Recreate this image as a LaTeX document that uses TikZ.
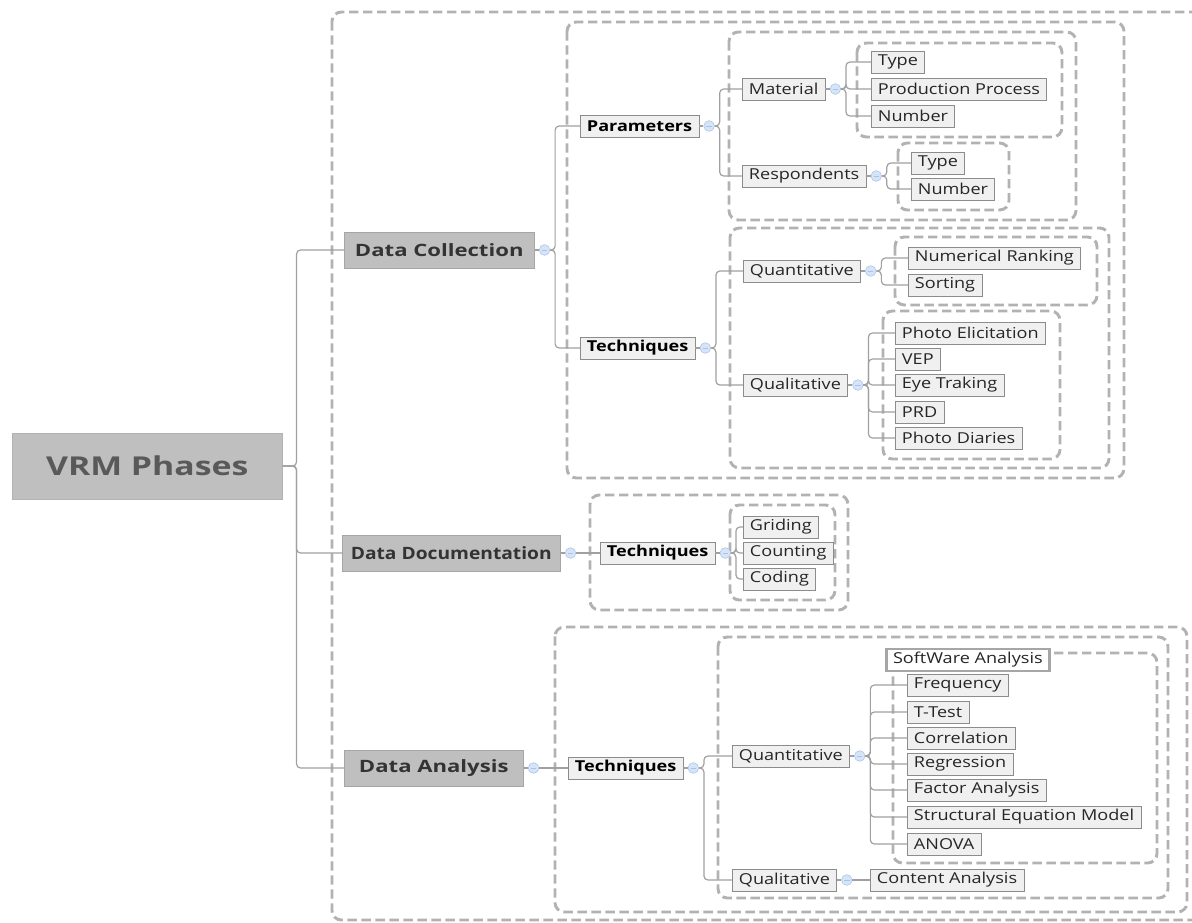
\documentclass[tikz,border=0pt]{standalone}
\usepackage{fontspec}
\setmainfont{Open Sans}[FakeStretch=1.3]
\newfontfamily\leaffont{Open Sans}[FakeStretch=1.2]
\newfontfamily\ddfont{Open Sans}[FakeStretch=1.13]
\definecolor{frm}{HTML}{B2B2B2}
\definecolor{lnk}{HTML}{A0A0A0}
\definecolor{togf}{HTML}{D6E4F8}
\definecolor{togd}{HTML}{A8C2E8}

\begin{document}
\begin{tikzpicture}[x=0.75pt,y=-0.75pt,
    grpbox/.style={draw=frm,line width=2.2pt,dash pattern=on 7pt off 3.5pt,rounded corners=7pt},
    link/.style={draw=lnk,line width=0.9pt,rounded corners=3pt},
    leaf/.style={draw=black!45,fill=black!6,anchor=west,inner xsep=5pt,inner ysep=0pt,
        minimum height=16.5pt,font=\leaffont\fontsize{11.3}{13}\selectfont,text=black!85},
    subhead/.style={leaf,font=\leaffont\bfseries\fontsize{11.3}{13}\selectfont,text=black},
    phase/.style={draw=black!35,fill=black!25,anchor=west,inner xsep=6pt,inner ysep=0pt,
        minimum height=27pt,font=\bfseries\fontsize{12.75}{15}\selectfont,text=black!80},
    rootbox/.style={draw=black!30,fill=black!25,anchor=west,minimum width=202.5pt,
        minimum height=49.5pt,font=\bfseries\fontsize{19.5}{22}\selectfont,text=black!65},
    tog/.style={circle,draw=togd,fill=togf,minimum size=8pt,inner sep=0pt,
        path picture={\draw[togd,line width=0.4pt] ([xshift=-2pt]path picture bounding box.center) -- ([xshift=2pt]path picture bounding box.center);}}]
    \useasboundingbox (0,0) rectangle (1192,922);
    \clip (0,0) rectangle (1192,922);

    % dashed groups
    \draw[grpbox] (332,12) rectangle (1240,920);
    \draw[grpbox] (567,22) rectangle (1124,478);
    \draw[grpbox] (729,32) rectangle (1076,220);
    \draw[grpbox] (857,43) rectangle (1062,137);
    \draw[grpbox] (898,143) rectangle (1009,210);
    \draw[grpbox] (730,228) rectangle (1109,468);
    \draw[grpbox] (895,237) rectangle (1097,305);
    \draw[grpbox] (883,311) rectangle (1060,459);
    \draw[grpbox] (590,495) rectangle (848,610);
    \draw[grpbox] (730,505) rectangle (835,600);
    \draw[grpbox] (555,627) rectangle (1187,912);
    \draw[grpbox] (718,637) rectangle (1168,898);
    \draw[grpbox] (893,653) rectangle (1157,863);

    \node[rootbox] (vrm) at (12,466) {VRM Phases};

    % data collection
    \node[phase,minimum width=142.5pt] (dc) at (344,250) {Data Collection};
    \node[subhead] (par) at (580,126) {Parameters};
    \node[leaf] (mat) at (742,89) {Material};
    \node[leaf] (mtype) at (871,62) {Type};
    \node[leaf] (mproc) at (871,89) {Production Process};
    \node[leaf] (mnum) at (871,116) {Number};
    \node[leaf] (resp) at (742,176) {Respondents};
    \node[leaf] (rtype) at (911,163) {Type};
    \node[leaf] (rnum) at (911,189) {Number};
    \node[subhead] (dctech) at (580,348) {Techniques};
    \node[leaf] (quant) at (743,271) {Quantitative};
    \node[leaf] (nrank) at (908,258) {Numerical Ranking};
    \node[leaf] (sort) at (908,285) {Sorting};
    \node[leaf] (qual) at (743,385) {Qualitative};
    \node[leaf] (phel) at (895,333) {Photo Elicitation};
    \node[leaf] (vep) at (895,359) {VEP};
    \node[leaf] (eye) at (895,385) {Eye Traking};
    \node[leaf] (prd) at (895,412) {PRD};
    \node[leaf] (pdia) at (895,438) {Photo Diaries};

    % data documentation
    \node[phase,font=\ddfont\bfseries\fontsize{12.75}{15}\selectfont,minimum width=163.5pt] (dd) at (342,553) {Data Documentation};
    \node[subhead] (ddtech) at (600,553) {Techniques};
    \node[leaf] (grid) at (743,527) {Griding};
    \node[leaf] (count) at (743,553) {Counting};
    \node[leaf] (code) at (743,579) {Coding};

    % data analysis
    \node[phase,minimum width=134.25pt] (da) at (344,768) {Data Analysis};
    \node[subhead] (datech) at (568,768) {Techniques};
    \node[leaf] (daquant) at (732,756) {Quantitative};
    \node[leaf,fill=white,draw=black!35,line width=2pt] (swlbl) at (885,660) {SoftWare Analysis};
    \node[leaf] (freq) at (907,685) {Frequency};
    \node[leaf] (ttest) at (907,712) {T-Test};
    \node[leaf] (corr) at (907,738) {Correlation};
    \node[leaf] (regr) at (907,764) {Regression};
    \node[leaf] (fact) at (907,790) {Factor Analysis};
    \node[leaf] (sem) at (907,817) {Structural Equation Model};
    \node[leaf] (anova) at (907,844) {ANOVA};
    \node[leaf] (daqual) at (732,880) {Qualitative};
    \node[leaf] (cont) at (870,880) {Content Analysis};

    % collapse buttons
    \foreach \n in {dc,par,mat,resp,dctech,quant,qual,dd,ddtech,da,datech,daquant,daqual}{
        \node[tog] (tg\n) at ([xshift=7.5pt]\n.east) {};
        \draw[link] (\n.east) -- (tg\n.west);
    }

    % branches
    \foreach \c in {dc,dd,da}{
        \draw[link] (vrm.east) -- ++(14,0) |- (\c.west);
    }
    \foreach \p/\c in {dc/par,dc/dctech,par/mat,par/resp,mat/mtype,mat/mproc,mat/mnum,
        resp/rtype,resp/rnum,dctech/quant,dctech/qual,quant/nrank,quant/sort,
        qual/phel,qual/vep,qual/eye,qual/prd,qual/pdia,ddtech/grid,ddtech/count,ddtech/code,
        datech/daquant,datech/daqual,daquant/freq,daquant/ttest,daquant/corr,daquant/regr,
        daquant/fact,daquant/sem,daquant/anova}{
        \draw[link] (tg\p.east) -- ++(5,0) |- (\c.west);
    }
    \draw[link] (tgdd.east) -- (ddtech.west);
    \draw[link] (tgda.east) -- (datech.west);
    \draw[link] (tgdaqual.east) -- (cont.west);
\end{tikzpicture}
\end{document}
